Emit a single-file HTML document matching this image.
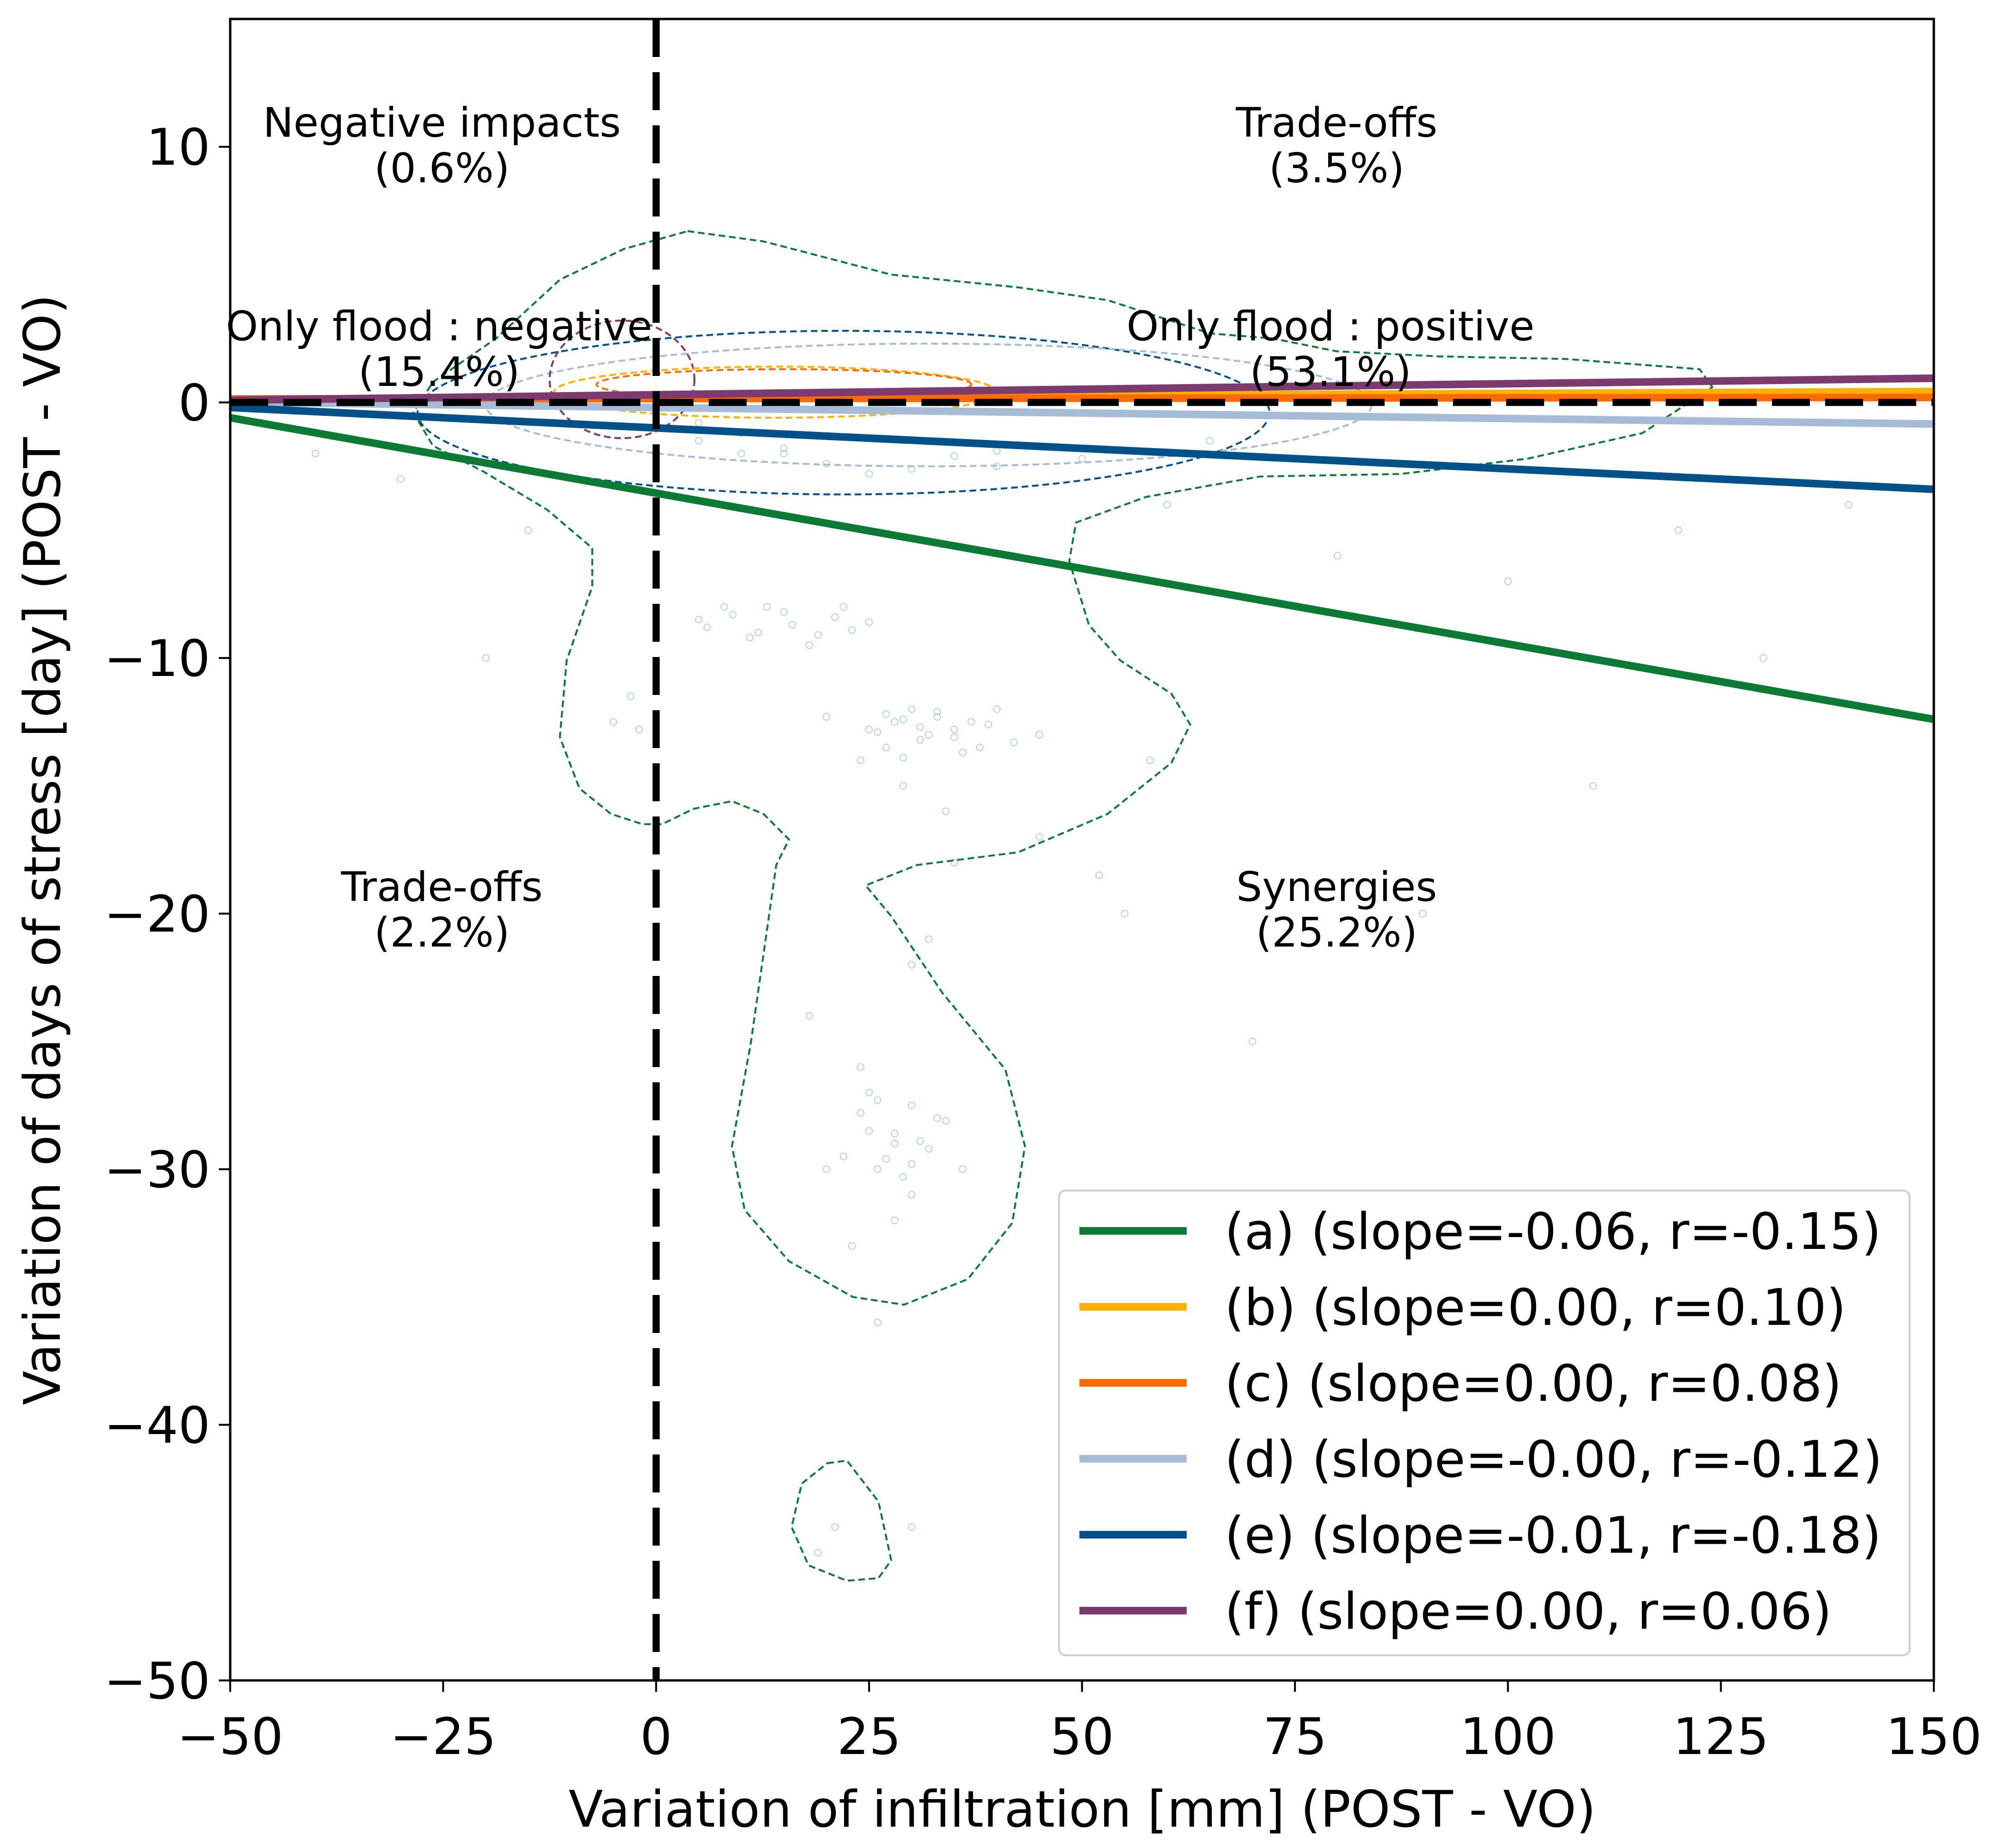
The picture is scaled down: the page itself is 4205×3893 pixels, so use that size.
<!DOCTYPE html>
<html><head><meta charset="utf-8"><style>
html,body{margin:0;padding:0;background:#fff}
svg{display:block;font-family:"DejaVu Sans","Liberation Sans",sans-serif}
</style></head><body>
<svg id="chart" width="4205" height="3893" viewBox="0 0 4205 3893" xmlns="http://www.w3.org/2000/svg">
<rect x="0" y="0" width="4205" height="3893" fill="#fff"/>
<defs><clipPath id="plotclip"><rect x="485" y="40" width="3589" height="3500"/></clipPath></defs>
<g id="plot" clip-path="url(#plotclip)"></g>
<g id="annot"></g>
<g id="axes"></g>
<g id="legend"></g>
</svg>
<script>
const xTicks = [-50,-25,0,25,50,75,100,125,150];
const yTicks = [10,0,-10,-20,-30,-40,-50];
const seriesNames = ["(a)","(b)","(c)","(d)","(e)","(f)"];
const seriesSlopes = [-0.059,0.0015,0.0003,-0.0043,-0.016,0.0043];
const seriesIntercepts = [-3.55,0.2,0.15,-0.2,-1.0,0.3];
const seriesColors = ["#0a7a34","#ffb000","#ff6a00","#a6bbd6","#00508a","#7d3a6f"];
const legendLabels = ["(a) (slope=-0.06, r=-0.15)","(b) (slope=0.00, r=0.10)","(c) (slope=0.00, r=0.08)","(d) (slope=-0.00, r=-0.12)","(e) (slope=-0.01, r=-0.18)","(f) (slope=0.00, r=0.06)"];
const greenContourX = [3.7,12.6,27.6,42.5,53.0,65.0,72.4,79.9,91.9,106.8,122.5,124.0,115.8,102.3,87.4,70.9,57.5,49.3,48.5,50.8,54.5,60.5,62.7,60.5,53.0,42.5,30.6,24.6,27.6,33.6,41.0,43.3,41.8,36.6,29.1,23.1,15.6,10.4,8.9,11.1,12.6,14.1,15.6,12.6,8.9,4.4,0.7,-1.6,-5.3,-9.0,-11.3,-10.5,-7.5,-7.5,-12.8,-20.3,-26.2,-28.5,-26.2,-18.8,-11.3,-3.8,3.7];
const greenContourY = [6.7,6.3,5.0,4.5,4.0,2.7,2.5,2.0,1.8,1.7,1.3,0.6,-1.2,-2.2,-2.8,-2.9,-3.7,-4.7,-6.2,-8.7,-10.1,-11.4,-12.6,-14.1,-16.1,-17.6,-18.1,-18.9,-20.1,-23.1,-26.1,-29.1,-32.1,-34.3,-35.3,-35.0,-33.6,-31.6,-29.1,-25.1,-21.6,-18.1,-17.1,-16.1,-15.6,-15.9,-16.5,-16.5,-16.1,-15.1,-13.1,-10.1,-7.2,-5.7,-4.2,-2.7,-1.7,-0.4,0.8,2.5,4.8,6.0,6.7];
const islandX = [20.1,22.4,26.1,27.6,26.1,22.4,17.9,15.9,17.1,20.1];
const islandY = [-41.5,-41.4,-43.0,-45.3,-46.0,-46.1,-45.5,-44.0,-42.3,-41.5];
const ellipseCx = [22, 32, -4, 14, 15];
const ellipseCy = [-0.4, -0.1, 0.9, 0.4, 0.7];
const ellipseRx = [50, 52, 8.5, 26, 22];
const ellipseRy = [3.2, 2.4, 2.3, 1.0, 0.6];
const ellipseColors = ["#00508a","#a6bbd6","#7d3a6f","#ffb000","#ff6a00"];
const ptsX = [5,8,12,15,18,22,25,28,30,32,35,38,40,45,20,24,27,30,33,36,26,28,30,22,25,20,18,30,35,-5,-15,-30,60,80,100,120,140,70,90,10,5,15,40,50,65,-40,-20,110,130,55,28,24,32,21,19,30,26,23,29,34,
 6,9,11,13,16,19,21,23,26,29,31,33,36,39,42,25,27,29,31,33,35,37,24,26,28,30,32,34,29,27,25,31,15,20,25,30,35,40,10,5,-3,-2,45,52,58];
const ptsY = [-8.5,-8,-9,-8.2,-9.5,-8,-8.6,-12.5,-12,-13,-12.8,-13.5,-12,-13,-12.3,-14,-13.5,-27.5,-28,-30,-30,-29,-31,-29.5,-28.5,-30,-24,-22,-18,-12.5,-5,-3,-4,-6,-7,-5,-4,-25,-20,-2,-1.5,-1.8,-2.5,-2.2,-1.5,-2,-10,-15,-10,-20,-32,-26,-21,-44,-45,-44,-36,-33,-15,-16,
 -8.8,-8.3,-9.2,-8.0,-8.7,-9.1,-8.4,-8.9,-12.9,-12.4,-13.2,-12.1,-13.7,-12.6,-13.3,-12.8,-12.2,-13.9,-12.7,-12.3,-13.1,-12.5,-27.8,-27.3,-28.6,-29.8,-29.2,-28.1,-30.3,-29.6,-27.0,-28.9,-2.0,-2.4,-2.8,-2.6,-2.1,-1.9,-1.2,-0.8,-11.5,-12.8,-17,-18.5,-14];

const svgNS="http://www.w3.org/2000/svg";
const L=485,R=4074,T=40,B=3540;
function xs(v){return L+(v+50)/200*(R-L);}
function ys(v){return T+(15-v)/65*(B-T);}
function mk(tag,attrs,parent){const e=document.createElementNS(svgNS,tag);for(const k in attrs)e.setAttribute(k,attrs[k]);parent.appendChild(e);return e;}
const plot=document.getElementById('plot'),axes=document.getElementById('axes'),legend=document.getElementById('legend'),annot=document.getElementById('annot');

for(let i=0;i<ptsX.length;i++){
  const c=mk('circle',{cx:xs(ptsX[i]),cy:ys(ptsY[i]),r:7,fill:'none',stroke:'#7fbf95','stroke-width':2,opacity:0.6},plot);
  
  
}
function pathFrom(xa,ya){let d='';for(let i=0;i<xa.length;i++)d+=(i?'L':'M')+xs(xa[i]).toFixed(1)+','+ys(ya[i]).toFixed(1);return d+'Z';}
const gc=mk('path',{d:pathFrom(greenContourX,greenContourY),fill:'none',stroke:'#0a7a34','stroke-width':4,'stroke-dasharray':'14,8','stroke-linejoin':'round'},plot);


const gi=mk('path',{d:pathFrom(islandX,islandY),fill:'none',stroke:'#0a7a34','stroke-width':4,'stroke-dasharray':'14,8'},plot);


for(let i=0;i<ellipseCx.length;i++){
  const cx=xs(ellipseCx[i]),cy=ys(ellipseCy[i]);
  const rx=xs(ellipseCx[i]+ellipseRx[i])-cx, ry=ys(ellipseCy[i]-ellipseRy[i])-cy;
  const e=mk('ellipse',{cx:cx,cy:cy,rx:rx,ry:ry,fill:'none',stroke:ellipseColors[i],'stroke-width':4,'stroke-dasharray':'14,8'},plot);
  
  
}
for(let i=0;i<seriesSlopes.length;i++){
  const y1=seriesIntercepts[i]+seriesSlopes[i]*(-50), y2=seriesIntercepts[i]+seriesSlopes[i]*150;
  const ln=mk('line',{x1:xs(-50),y1:ys(y1),x2:xs(150),y2:ys(y2),stroke:seriesColors[i],'stroke-width':16},plot);
  
  
}
const hz=mk('line',{x1:L,y1:ys(0),x2:R,y2:ys(0),stroke:'#000','stroke-width':15,'stroke-dasharray':'80,32'},plot);


const vz=mk('line',{x1:xs(0),y1:T,x2:xs(0),y2:B,stroke:'#000','stroke-width':15,'stroke-dasharray':'80,32'},plot);



const ann=[["Negative impacts","(0.6%)",931,288],["Trade-offs","(3.5%)",2816,288],["Only flood : negative","(15.4%)",925,717],["Only flood : positive","(53.1%)",2803,717],["Trade-offs","(2.2%)",931,1898],["Synergies","(25.2%)",2816,1898]];
ann.forEach(a=>{
  const t=mk('text',{x:a[2],y:a[3],'font-size':86,'text-anchor':'middle',fill:'#000'},annot);t.textContent=a[0];
  
  
  const t2=mk('text',{x:a[2],y:a[3]+96,'font-size':86,'text-anchor':'middle',fill:'#000'},annot);t2.textContent=a[1];
  
  
});

const fr=mk('rect',{x:L,y:T,width:R-L,height:B-T,fill:'none',stroke:'#000','stroke-width':5},axes);


xTicks.forEach(v=>{
  const tk=mk('line',{x1:xs(v),y1:B,x2:xs(v),y2:B+24,stroke:'#000','stroke-width':4},axes);
  
  
  const t=mk('text',{x:xs(v),y:3695,'font-size':106,'text-anchor':'middle'},axes);t.textContent=(v<0?'\u2212'+(-v):v);
  
  
});
yTicks.forEach(v=>{
  const tk=mk('line',{x1:L-24,y1:ys(v),x2:L,y2:ys(v),stroke:'#000','stroke-width':4},axes);
  
  
  const t=mk('text',{x:L-42,y:ys(v)+38,'font-size':106,'text-anchor':'end'},axes);t.textContent=(v<0?'\u2212'+(-v):v);
  
  
});
const xt=mk('text',{x:2280,y:3848,'font-size':106,'text-anchor':'middle'},axes);xt.textContent='Variation of infiltration [mm] (POST - VO)';


const yt=mk('text',{x:0,y:0,'font-size':106,'text-anchor':'middle',transform:'translate(126,1790) rotate(-90)'},axes);yt.textContent='Variation of days of stress [day] (POST - VO)';



const lb=mk('rect',{x:2231,y:2508,width:1792,height:979,rx:14,fill:'#fff',stroke:'#ccc','stroke-width':4,opacity:0.95},legend);


legendLabels.forEach((s,i)=>{
  const yy=2593+i*160;
  const ln=mk('line',{x1:2274,y1:yy,x2:2500,y2:yy,stroke:seriesColors[i],'stroke-width':16},legend);
  
  
  const t=mk('text',{x:2580,y:yy+38,'font-size':106},legend);t.textContent=s;
  
  
});
</script>
</body></html>
